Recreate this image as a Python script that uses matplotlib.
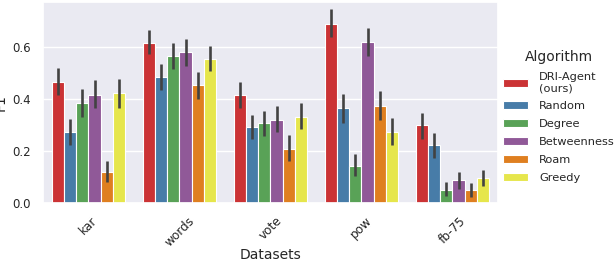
import numpy as np
import matplotlib
matplotlib.use("Agg")
import matplotlib.pyplot as plt
import seaborn as sns

datasets = ["kar", "words", "vote", "pow", "fb-75"]
algorithms = ["DRI-Agent\n(ours)", "Random", "Degree", "Betweenness", "Roam", "Greedy"]

# mean F1 per algorithm (rows) and dataset (columns)
f1_mean = [
    [0.467, 0.617, 0.417, 0.691, 0.300],
    [0.273, 0.486, 0.293, 0.367, 0.224],
    [0.386, 0.568, 0.308, 0.143, 0.049],
    [0.417, 0.582, 0.322, 0.622, 0.088],
    [0.120, 0.454, 0.207, 0.373, 0.049],
    [0.425, 0.556, 0.332, 0.274, 0.097],
]
# confidence interval bounds (low, high)
f1_low = [
    [0.416, 0.576, 0.368, 0.641, 0.247],
    [0.223, 0.435, 0.246, 0.309, 0.172],
    [0.333, 0.516, 0.257, 0.104, 0.026],
    [0.367, 0.527, 0.274, 0.568, 0.054],
    [0.083, 0.401, 0.164, 0.319, 0.024],
    [0.368, 0.508, 0.284, 0.224, 0.064],
]
f1_high = [
    [0.519, 0.666, 0.466, 0.747, 0.349],
    [0.323, 0.537, 0.341, 0.419, 0.271],
    [0.439, 0.618, 0.354, 0.188, 0.080],
    [0.474, 0.632, 0.373, 0.677, 0.121],
    [0.161, 0.505, 0.261, 0.431, 0.077],
    [0.479, 0.604, 0.384, 0.329, 0.129],
]

sns.set_theme(style="darkgrid")
# seaborn barplot draws with saturation 0.75
colors = sns.color_palette("Set1", 6, desat=0.75)

fig = plt.figure(figsize=(6.14, 2.62), dpi=100)
ax = fig.add_axes([0.070, 0.225, 0.741, 0.767])

x = np.arange(len(datasets))
n = len(algorithms)
width = 0.8 / n
for i, (name, c) in enumerate(zip(algorithms, colors)):
    pos = x - 0.4 + width * (i + 0.5)
    ax.bar(pos, f1_mean[i], width, color=c, edgecolor="white", linewidth=0.8, label=name)
    ax.vlines(pos, f1_low[i], f1_high[i], color="#424242", linewidth=1.9)

ax.grid(False, axis="x")
ax.set_xlim(-0.5, 4.5)
ax.set_ylim(0, 0.775)
ax.set_yticks([0.0, 0.2, 0.4, 0.6])
ax.set_xticks(x)
ax.set_xticklabels(datasets, rotation=45, fontsize=8.7)
ax.tick_params(axis="y", labelsize=8.5, pad=3)
ax.tick_params(axis="x", pad=2)
ax.set_xlabel("Datasets", fontsize=10, labelpad=-1)
ax.set_ylabel("F1", fontsize=10, labelpad=3)

ax.legend(title="Algorithm", loc="center left", bbox_to_anchor=(1.0, 0.43),
          borderaxespad=0, borderpad=0.4,
          frameon=False, fontsize=8.2, title_fontsize=10,
          handlelength=2.25, handleheight=0.7, handletextpad=0.95,
          labelspacing=0.7)

fig.savefig("out.png", dpi=100)
